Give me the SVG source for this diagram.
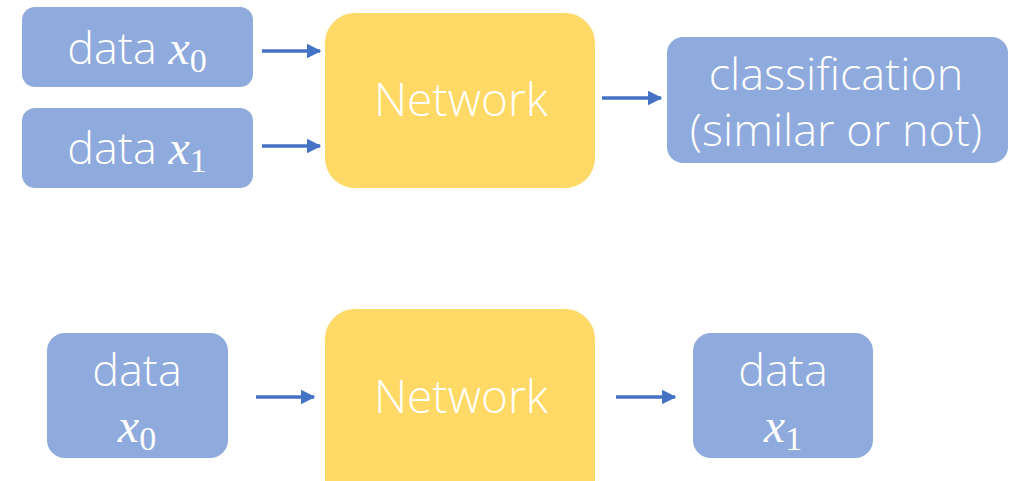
<svg xmlns="http://www.w3.org/2000/svg" width="1023" height="481" viewBox="0 0 1023 481">
<defs>
<style>
.blue{fill:#8FAADC}
.yel{fill:#FFD966}
.t{fill:#fff;font-family:"Open Sans","Noto Sans",sans-serif;font-weight:300;font-size:45px;text-anchor:middle}
.n{font-size:46px}
.m{font-family:"Liberation Serif",serif;font-style:italic;font-weight:400;font-size:48px}
.s{font-family:"Liberation Serif",serif;font-style:normal;font-size:34px}
.c{stroke:#4472C4;stroke-width:3.5;fill:none;marker-end:url(#ah)}
</style>
<marker id="ah" viewBox="0 0 10 10" refX="9" refY="5" markerWidth="4.2" markerHeight="4.2" orient="auto" markerUnits="strokeWidth">
<path d="M0,0 L10,5 L0,10 Z" fill="#4472C4"/>
</marker>
</defs>
<rect width="1023" height="481" fill="#fff"/>
<g id="data_x0_top">
<rect class="blue" x="22" y="7" width="231" height="80" rx="13"/>
<text class="t" x="137" y="64">data <tspan class="m">x</tspan><tspan class="s" dy="8">0</tspan></text>
</g>
<g id="data_x1_top">
<rect class="blue" x="22" y="108" width="231" height="80" rx="13"/>
<text class="t" x="137" y="164">data <tspan class="m">x</tspan><tspan class="s" dy="8">1</tspan></text>
</g>
<g id="network_top">
<rect class="yel" x="325" y="13" width="270" height="175" rx="30"/>
<text class="t n" x="461" y="116">Network</text>
</g>
<g id="classification">
<rect class="blue" x="667" y="37" width="341" height="126" rx="16"/>
<text class="t" x="836" y="90">classification</text>
<text class="t" x="836" y="146">(similar or not)</text>
</g>
<g id="data_x0_bottom">
<rect class="blue" x="47" y="333" width="181" height="125" rx="18"/>
<text class="t" x="137" y="386">data</text>
<text class="t" x="137" y="442"><tspan class="m">x</tspan><tspan class="s" dy="8">0</tspan></text>
</g>
<g id="network_bottom">
<rect class="yel" x="325" y="309" width="270" height="200" rx="30"/>
<text class="t n" x="461" y="413">Network</text>
</g>
<g id="data_x1_bottom">
<rect class="blue" x="693" y="333" width="180" height="125" rx="18"/>
<text class="t" x="783" y="386">data</text>
<text class="t" x="783" y="442"><tspan class="m">x</tspan><tspan class="s" dy="8">1</tspan></text>
</g>
<g id="connectors">
<line class="c" x1="262" y1="51" x2="320" y2="51"/>
<line class="c" x1="262" y1="146" x2="320" y2="146"/>
<line class="c" x1="602" y1="98" x2="661" y2="98"/>
<line class="c" x1="256" y1="397" x2="314" y2="397"/>
<line class="c" x1="616" y1="397" x2="675" y2="397"/>
</g>
</svg>
